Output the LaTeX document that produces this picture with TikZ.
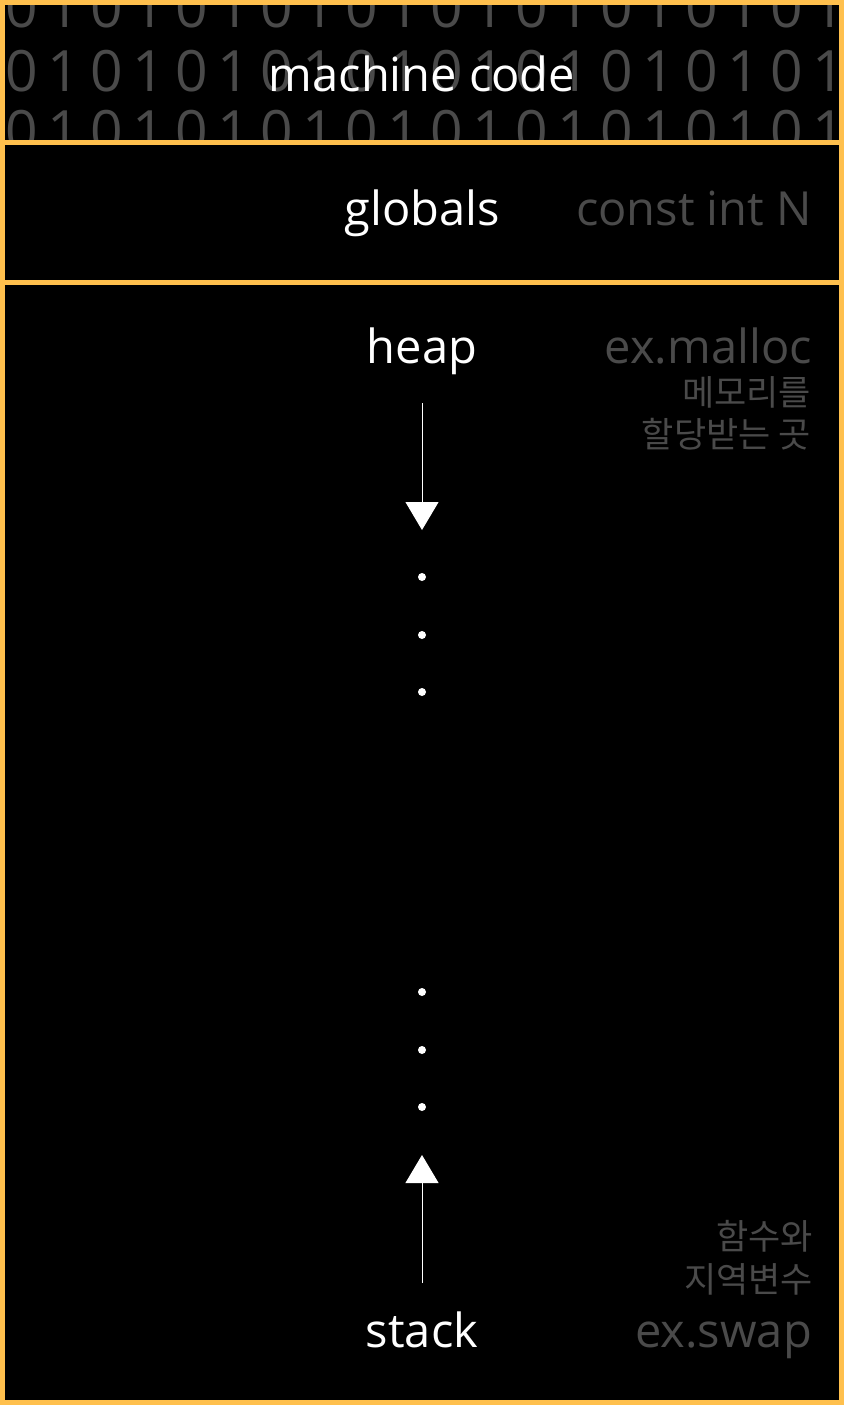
\documentclass[tikz,border=0pt]{standalone}
\usepackage{fontspec}
\setmainfont{Open Sans}
\newfontfamily\krfont{Noto Sans CJK KR}
\usetikzlibrary{arrows.meta}
\definecolor{memline}{HTML}{FFC04D}
\definecolor{memgray}{HTML}{4A4A4A}

\begin{document}
\begin{tikzpicture}[x=1pt,y=-1pt]
\tikzset{
  area/.style={font=\fontsize{47}{47}\selectfont,text=white,anchor=base,inner sep=0pt},
  note/.style={font=\fontsize{47}{47}\selectfont,text=memgray,anchor=base east,inner sep=0pt},
  krnote/.style={font=\krfont\fontsize{35}{35}\selectfont,text=memgray,anchor=base east,inner sep=0pt},
  bit/.style={font=\fontsize{57}{57}\selectfont,text=memgray,anchor=base,inner sep=0pt},
  growth/.style={white,line width=1pt,-{Triangle[width=33pt,length=28pt]}},
  dot/.style={circle,fill=white,inner sep=0pt,minimum size=8pt},
}
\path[use as bounding box] (0,0) rectangle (844,1405);
\fill[black] (0,0) rectangle (844,1405);

% bits behind machine code
\begin{scope}
\clip (0,0) rectangle (844,142);
\foreach \row/\y in {0/28,1/92,2/151}
  \foreach \i in {0,...,19} {
    \pgfmathtruncatemacro\b{mod(\i,2)}
    \node[bit] (bit-\row-\i) at (21.7+42.5*\i,\y) {\b};
  }
\end{scope}

% memory areas
\draw[memline,line width=5pt] (2.5,2.5) rectangle (841.5,1402.5);
\draw[memline,line width=5pt] (0,142.5) -- (844,142.5);
\draw[memline,line width=5pt] (0,282.5) -- (844,282.5);

\node[area] (code) at (422,92) {machine code};
\node[area] (globals) at (422,225) {globals};
\node[note] (const) at (812,225) {const int N};
\node[area] (heap) at (422,363) {heap};
\node[note] (malloc) at (812,363) {ex.malloc};
\node[krnote] (heapnote1) at (811,405) {메모리를};
\node[krnote] (heapnote2) at (811,447) {할당받는 곳};
\node[krnote] (stacknote1) at (813,1249) {함수와};
\node[krnote] (stacknote2) at (813,1292) {지역변수};
\node[note] (swap) at (812,1347) {ex.swap};
\node[area] (stack) at (422,1347) {stack};

% growth
\coordinate (heaptop) at (422,403);
\coordinate (heapend) at (422,530);
\coordinate (stackbot) at (422,1283);
\coordinate (stackend) at (422,1155);
\draw[growth] (heaptop) -- (heapend);
\draw[growth] (stackbot) -- (stackend);
\foreach \y [count=\k] in {577,635,692,992,1050,1107}
  \node[dot] (dot\k) at (422,\y) {};
\end{tikzpicture}
\end{document}
